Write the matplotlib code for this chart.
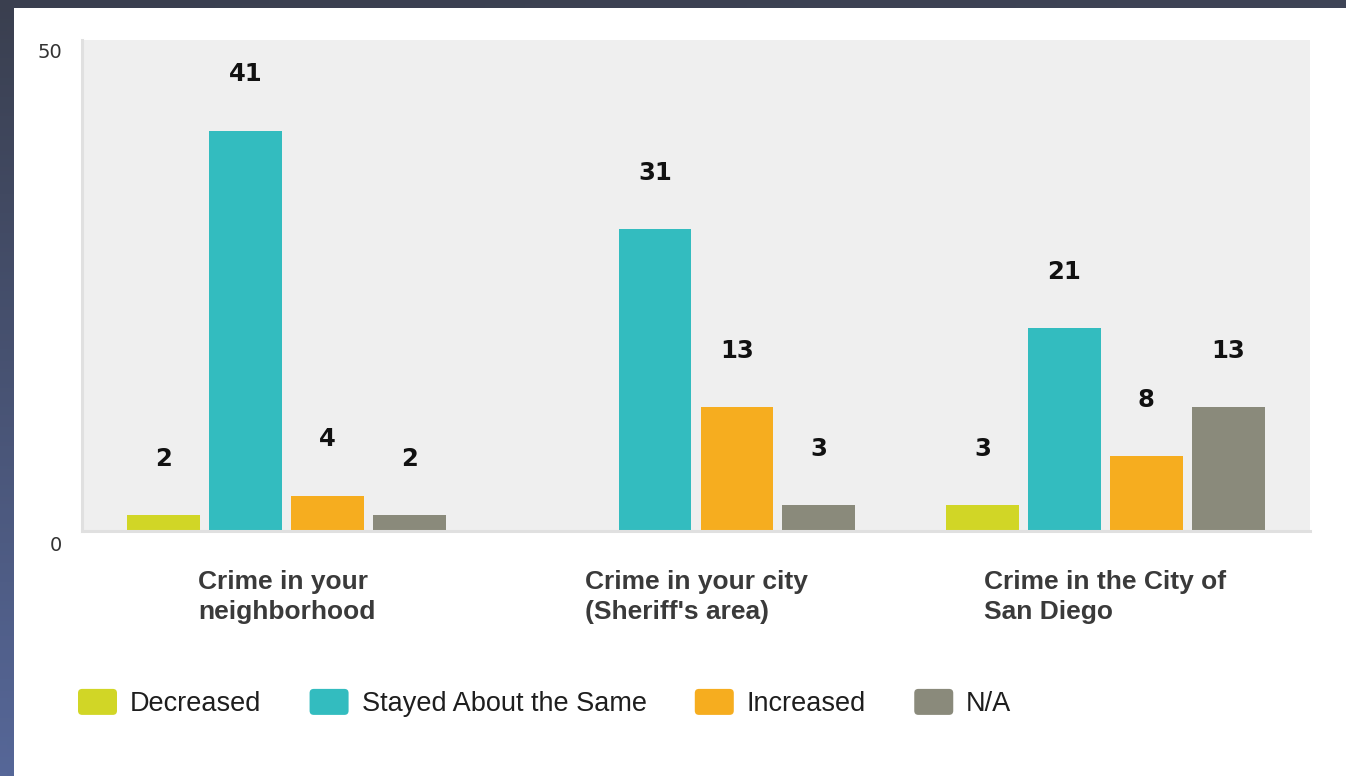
import numpy as np
import matplotlib
matplotlib.use("Agg")
import matplotlib.pyplot as plt
from matplotlib.patches import Rectangle, FancyBboxPatch, Patch
from matplotlib.legend_handler import HandlerPatch

# ---- data ----
categories = ["Crime in your\nneighborhood",
              "Crime in your city\n(Sheriff's area)",
              "Crime in the City of\nSan Diego"]
series_names = ["Decreased", "Stayed About the Same", "Increased", "N/A"]
decreased = [2, None, 3]
stayed = [41, 31, 21]
increased = [4, 13, 8]
na_vals = [2, 3, 13]
colors = ["#d1d626", "#33bcbf", "#f6ad1f", "#8a8a7b"]
y_ticks = [0, 50]

W, H, DPI = 1346, 776, 100
fig = plt.figure(figsize=(W / DPI, H / DPI), dpi=DPI)

# dark frame with gradient
bg = fig.add_axes([0, 0, 1, 1], zorder=-10)
bg.set_axis_off()
top_c = np.array([0x3a, 0x3f, 0x4f]) / 255
bot_c = np.array([0x56, 0x67, 0x98]) / 255
right_c = np.array([0x4a, 0x50, 0x66]) / 255
yy, xx = np.mgrid[0:1:200j, 0:1:200j]
img = (top_c[None, None, :] * (1 - yy[..., None]) + bot_c[None, None, :] * yy[..., None])
img = img * (1 - 0.3 * xx[..., None]) + right_c[None, None, :] * 0.3 * xx[..., None]
bg.imshow(img, extent=[0, 1, 0, 1], aspect="auto", origin="upper")
bg.set_xlim(0, 1); bg.set_ylim(0, 1)
bg.add_patch(Rectangle((14 / W, 0), 1, 1 - 8 / H, facecolor="white", edgecolor="none"))

# main axes
ax = fig.add_axes([82 / W, (H - 531) / H, (1310 - 82) / W, (531 - 40) / H])
ax.set_facecolor("#efefef")
ax.set_xlim(-0.5, 2.5)
ax.set_ylim(0.4, 50.2)

series = [decreased, stayed, increased, na_vals]
offsets = [-0.3, -0.1, 0.1, 0.3]
bw = 0.178
x = np.arange(len(categories))
for vals, off, col in zip(series, offsets, colors):
    for xi, v in zip(x, vals):
        if v is None:
            continue
        ax.bar(xi + off, v, width=bw, color=col, zorder=2)
        ax.annotate(str(v), xy=(xi + off, v), xytext=(0, 40.5), textcoords="offset points",
                    ha="center", va="center", fontsize=17.5, fontweight="bold",
                    family="DejaVu Sans", color="#111111")

for s in ["top", "right"]:
    ax.spines[s].set_visible(False)
for s in ["left", "bottom"]:
    ax.spines[s].set_color("#e0e0e0")
    ax.spines[s].set_linewidth(2.2)

ax.set_yticks([])
for t in y_ticks:
    ax.annotate(str(t), xy=(-0.5, t), xytext=(-14.4, -7.5), textcoords="offset points",
                ha="right", va="center", fontsize=14, family="DejaVu Sans",
                color="#333333", annotation_clip=False)

ax.set_xticks(x)
ax.set_xticklabels(categories, fontsize=19, fontweight="bold", family="Liberation Sans",
                   color="#3a3a3a", linespacing=1.3)
for lbl in ax.get_xticklabels():
    lbl.set_multialignment("left")
ax.tick_params(axis="x", length=0, pad=28)


class RoundHandler(HandlerPatch):
    def create_artists(self, legend, orig_handle, xdescent, ydescent, width, height, fontsize, trans):
        r = 3.0
        p = FancyBboxPatch((-xdescent + r, -ydescent + r), width - 2 * r, height - 2 * r,
                           boxstyle=f"round,pad={r}", facecolor=orig_handle.get_facecolor(),
                           edgecolor="none", transform=trans)
        return [p]


handles = [Patch(facecolor=c) for c in colors]
leg = fig.legend(handles, series_names, loc="center left",
                 bbox_to_anchor=(78 / W, 1 - 703 / H), ncol=4, frameon=False,
                 prop={"family": "Liberation Sans", "size": 19.5},
                 handlelength=1.44, handleheight=1.1, handletextpad=0.48,
                 columnspacing=1.78, borderpad=0, borderaxespad=0,
                 handler_map={Patch: RoundHandler()})
for t in leg.get_texts():
    t.set_color("#1e1e1e")

fig.savefig("out.png", dpi=DPI)
